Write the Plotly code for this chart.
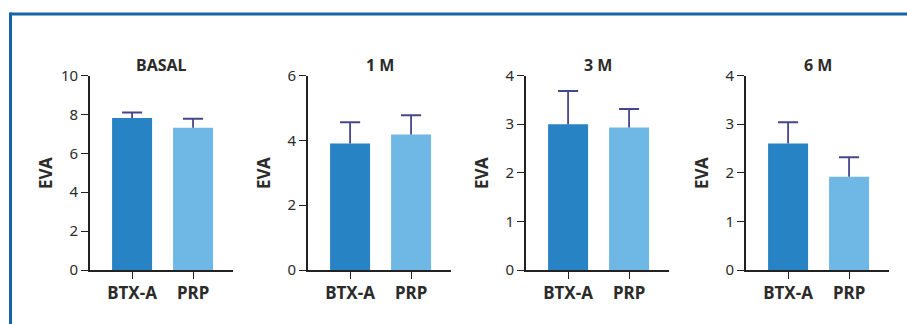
import plotly.graph_objects as go

W, H = 907, 324

categories = ["BTX-A", "PRP"]
panel_titles = ["BASAL", "1 M", "3 M", "6 M"]
means = [
    [7.82, 7.32],
    [3.90, 4.18],
    [3.00, 2.93],
    [2.60, 1.92],
]
err_plus = [
    [0.28, 0.46],
    [0.66, 0.59],
    [0.68, 0.38],
    [0.44, 0.40],
]
y_max = [10, 6, 4, 4]
y_dtick = [2, 2, 1, 1]
y_label = "EVA"

bar_colors = ["#2783c4", "#6fb7e4"]
err_color = "#46468a"
axis_color = "#222222"
text_color = "#2b2b2b"
frame_color = "#1664a8"
FONT = "Noto Sans"

axis_x = [90, 308, 526, 746]
plot_w = 143
top_px, bot_px = 75.5, 270
cap_half = 0.165

def fx(px):
    return px / W

def fy(py):
    return 1 - py / H

fig = go.Figure()
xpos = list(range(len(categories)))

for i in range(4):
    xa = "x" if i == 0 else f"x{i+1}"
    ya = "y" if i == 0 else f"y{i+1}"
    fig.add_trace(go.Bar(
        x=xpos, y=means[i],
        marker=dict(color=bar_colors, line=dict(width=0)),
        width=0.656,
        error_y=dict(type="data", array=err_plus[i], symmetric=False,
                     arrayminus=[0] * len(xpos), color=err_color,
                     thickness=1.8, width=0),
        xaxis=xa, yaxis=ya, showlegend=False, hoverinfo="skip",
    ))
    tops = [m + e for m, e in zip(means[i], err_plus[i])]
    fig.add_trace(go.Scatter(
        x=xpos, y=tops, mode="markers", marker=dict(size=0.1, opacity=0),
        error_x=dict(type="constant", value=cap_half, color=err_color,
                     thickness=2, width=0),
        xaxis=xa, yaxis=ya, showlegend=False, hoverinfo="skip",
    ))
    key_x = "xaxis" if i == 0 else f"xaxis{i+1}"
    key_y = "yaxis" if i == 0 else f"yaxis{i+1}"
    x0 = axis_x[i]
    fig.layout[key_x] = dict(
        domain=[fx(x0), fx(x0 + plot_w)],
        anchor=ya, range=[-0.69, 1.655],
        tickmode="array", tickvals=xpos, ticktext=categories,
        showline=True, linecolor=axis_color, linewidth=1.6,
        ticks="outside", ticklen=7, tickwidth=1.4, tickcolor=axis_color,
        showgrid=False, zeroline=False, automargin=False,
        tickfont=dict(family=FONT, size=17, color=text_color, weight="bold"),
        fixedrange=True,
    )
    fig.layout[key_y] = dict(
        domain=[fy(bot_px), fy(top_px)],
        anchor=xa, range=[0, y_max[i]], dtick=y_dtick[i],
        showline=True, linecolor=axis_color, linewidth=1.6,
        ticks="outside", ticklen=7, tickwidth=1.4, tickcolor=axis_color,
        showgrid=False, zeroline=False, automargin=False,
        tickfont=dict(family=FONT, size=15, color=text_color),
        fixedrange=True,
    )
    fig.add_annotation(
        x=fx(x0 + plot_w / 2), y=fy(65), xref="paper", yref="paper",
        text=panel_titles[i], showarrow=False,
        font=dict(family=FONT, size=16, color=text_color, weight="bold"),
        xanchor="center", yanchor="middle",
    )
    fig.add_annotation(
        x=fx(x0 - 45), y=fy(173), xref="paper", yref="paper",
        text=y_label, showarrow=False, textangle=-90,
        font=dict(family=FONT, size=17, color=text_color, weight="bold"),
        xanchor="center", yanchor="middle",
    )

# blue frame (top and left edges)
fig.add_shape(type="line", xref="paper", yref="paper",
              x0=fx(9.5), x1=1, y0=fy(14), y1=fy(14),
              line=dict(color=frame_color, width=3))
fig.add_shape(type="line", xref="paper", yref="paper",
              x0=fx(10.5), x1=fx(10.5), y0=fy(12.5), y1=0,
              line=dict(color=frame_color, width=3))

fig.update_layout(
    width=W, height=H,
    margin=dict(l=0, r=0, t=0, b=0, pad=0),
    paper_bgcolor="white", plot_bgcolor="white",
)

fig.write_html("out.html", config={"displayModeBar": False})
